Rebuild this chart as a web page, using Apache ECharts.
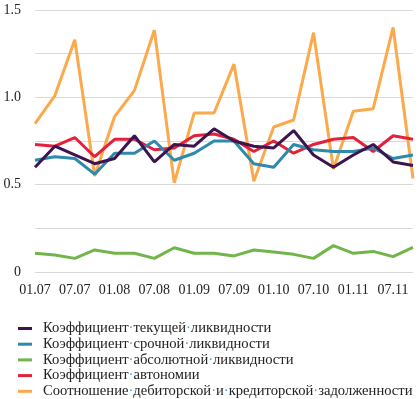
<!DOCTYPE html>
<html>
<head>
<meta charset="utf-8">
<script src="https://cdn.jsdelivr.net/npm/echarts@6/dist/echarts.min.js"></script>
<style>
  html, body { margin: 0; padding: 0; background: #fff; }
  #chart { width: 420px; height: 399px; }
</style>
</head>
<body>
<div id="chart"></div>
<script>
// quarters, 01.07 .. 10.11
const periods = ['01.07','04.07','07.07','10.07','01.08','04.08','07.08','10.08','01.09','04.09',
                 '07.09','10.09','01.10','04.10','07.10','10.10','01.11','04.11','07.11','10.11'];

const current   = [0.60, 0.72, 0.67, 0.62, 0.65, 0.78, 0.63, 0.73, 0.72, 0.82,
                   0.75, 0.72, 0.71, 0.81, 0.67, 0.60, 0.67, 0.73, 0.63, 0.61];
const quick     = [0.64, 0.66, 0.65, 0.56, 0.68, 0.68, 0.75, 0.64, 0.68, 0.75,
                   0.75, 0.62, 0.60, 0.73, 0.70, 0.69, 0.69, 0.71, 0.65, 0.67];
const absolute  = [0.107, 0.097, 0.078, 0.126, 0.107, 0.107, 0.078, 0.139, 0.107, 0.107,
                   0.092, 0.126, 0.115, 0.101, 0.078, 0.151, 0.107, 0.118, 0.088, 0.141];
const autonomy  = [0.73, 0.72, 0.77, 0.66, 0.76, 0.76, 0.70, 0.71, 0.78, 0.79,
                   0.76, 0.69, 0.75, 0.68, 0.73, 0.76, 0.77, 0.69, 0.78, 0.76];
const recvPay   = [0.85, 1.01, 1.33, 0.55, 0.89, 1.04, 1.385, 0.51, 0.91, 0.91,
                   1.19, 0.52, 0.83, 0.87, 1.37, 0.59, 0.92, 0.935, 1.40, 0.535];

const names = [
  'Коэффициент текущей ликвидности',
  'Коэффициент срочной ликвидности',
  'Коэффициент абсолютной ликвидности',
  'Коэффициент автономии',
  'Соотношение дебиторской и кредиторской задолженности'
];
const colors = ['#3e1450', '#2e8aad', '#72b54a', '#e2213c', '#fba94b'];
const values = [current, quick, absolute, autonomy, recvPay];

const font = '"Liberation Serif", "Times New Roman", serif';

let chart = echarts.init(document.getElementById('chart'));
chart.setOption({
  animation: false,
  textStyle: { fontFamily: font },
  grid: { left: 35, right: 7, top: 10, bottom: 127 },
  xAxis: {
    type: 'category',
    data: periods,
    boundaryGap: false,
    axisLine: { show: false },
    axisTick: { show: false },
    axisLabel: {
      interval: 1,
      margin: 11,
      color: '#222',
      fontSize: 14,
      fontFamily: font
    }
  },
  yAxis: {
    type: 'value',
    min: 0,
    max: 1.5,
    interval: 0.25,
    axisLine: { show: false },
    axisTick: { show: false },
    splitLine: { lineStyle: { color: '#d9d9d9', width: 1 } },
    axisLabel: {
      margin: 14,
      color: '#222',
      fontSize: 14,
      fontFamily: font,
      formatter: v => {
        if (Math.abs(v * 2 - Math.round(v * 2)) > 1e-6) return '';
        return v === 0 ? '0' : v.toFixed(1);
      }
    }
  },
  legend: {
    orient: 'vertical',
    left: 18,
    top: 321,
    height: 100,
    padding: 0,
    icon: 'rect',
    itemWidth: 14,
    itemHeight: 3,
    itemGap: 0.7,
    textStyle: {
      fontSize: 14.6,
      lineHeight: 14,
      color: '#222',
      fontFamily: font,
      padding: [0, 0, 0, 6],
      rich: { d: { color: '#4a9fd8', fontSize: 14.6, fontFamily: font } }
    },
    formatter: name => name.split(' ').join('{d|·}'),
    data: names
  },
  series: names.map((name, i) => ({
    name: name,
    type: 'line',
    data: values[i],
    symbol: 'none',
    lineStyle: { color: colors[i], width: 3 },
    itemStyle: { color: colors[i] },
    z: 10 - i
  }))
});
</script>
</body>
</html>
